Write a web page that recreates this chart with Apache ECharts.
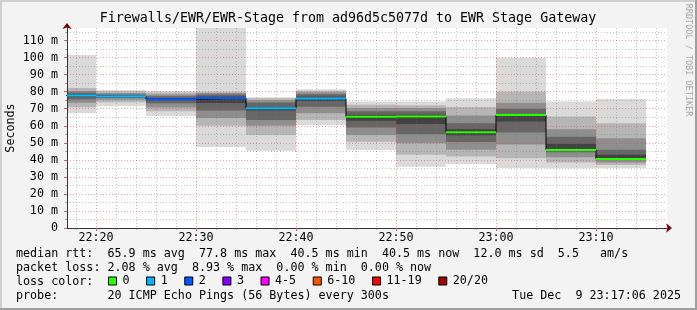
<!DOCTYPE html>
<html><head><meta charset="utf-8">
<script src="https://cdn.jsdelivr.net/npm/echarts@6/dist/echarts.min.js"></script>
<style>html,body{margin:0;padding:0;background:#f3f3f3}#c{width:697px;height:310px}</style>
</head><body><div id="c"></div>
<script>
// ---------------- data ----------------
// x values are minutes after 22:00
const xMin = 17.1, xMax = 77.1;               // 22:17:06 .. 23:17:06
const blockEnds = [20, 25, 30, 35, 40, 45, 50, 55, 60, 65, 70, 75];
const blockLen = 5;
const medians = [77.8, 77.3, 75.6, 76.3, 70.3, 76.0, 65.3, 65.4, 56.2, 66.3, 45.8, 40.5];
const lossCounts = [1, 1, 2, 2, 1, 1, 0, 0, 0, 0, 0, 0];
// sorted ping levels (ms) for each 5-minute block (smoke)
const smoke01 = [67.3, 70.9, 73.5, 75.5, 77.0, 78.5, 79.5, 80.5, 82.2, 101.6];
const smoke02 = [71.6, 73.8, 75.3, 76.3, 77.0, 77.8, 78.4, 79.3, 80.2, 81.0];
const smoke03 = [65.8, 68.5, 70.8, 73.2, 74.8, 76.3, 77.3, 78.3, 79.6, 80.6];
const smoke04 = [47.5, 60.0, 64.6, 69.0, 73.4, 77.2, 78.3, 79.2, 80.0, 125.0];
const smoke05 = [45.3, 54.6, 60.0, 63.4, 69.0, 71.0, 73.6, 75.0, 76.2, 76.8];
const smoke06 = [60.3, 63.4, 67.3, 71.2, 74.5, 77.0, 78.5, 79.7, 80.6, 81.4];
const smoke07 = [45.8, 50.7, 54.6, 59.0, 63.0, 66.5, 68.5, 70.5, 72.3, 74.2];
const smoke08 = [36.0, 43.0, 49.7, 55.0, 61.0, 66.5, 68.5, 70.5, 72.0, 74.2];
const smoke09 = [37.5, 42.0, 46.0, 50.5, 54.5, 58.0, 61.5, 66.0, 71.0, 76.2];
const smoke10 = [35.2, 41.0, 49.0, 56.0, 62.5, 66.8, 70.0, 73.5, 80.0, 100.0];
const smoke11 = [35.0, 38.5, 41.5, 44.5, 46.5, 49.5, 53.6, 58.0, 65.4, 74.2];
const smoke12 = [35.2, 37.0, 38.5, 40.0, 41.0, 43.0, 46.0, 52.7, 61.5, 75.7];
const smokeBlocks = [smoke01, smoke02, smoke03, smoke04, smoke05, smoke06, smoke07, smoke08, smoke09, smoke10, smoke11, smoke12];

const xTicks = [20, 30, 40, 50, 60, 70];
const xMinorTicks = [18, 22, 24, 26, 28, 32, 34, 36, 38, 42, 44, 46, 48, 52, 54, 56, 58, 62, 64, 66, 68, 72, 74, 76];
const yMin = 0, yMax = 117.4;
const yTicks = [0, 10, 20, 30, 40, 50, 60, 70, 80, 90, 100, 110];
const yMinorTicks = [5, 15, 25, 35, 45, 55, 65, 75, 85, 95, 105, 115];

const lossLabels = ['0', '1', '2', '3', '4-5', '6-10', '11-19', '20/20'];
const lossColors = ['#26ff00', '#00b8ff', '#0059ff', '#7e00ff', '#ff00ff', '#ff5500', '#ff0000', '#a10000'];
const lossUpper = [0, 1, 2, 3, 5, 10, 19, 20];

const titleText = 'Firewalls/EWR/EWR-Stage from ad96d5c5077d to EWR Stage Gateway';
const rttStats = ['65.9 ms avg', '77.8 ms max', '40.5 ms min', '40.5 ms now', '12.0 ms sd', '5.5   am/s'];
const lossStats = ['2.08 % avg', '8.93 % max', '0.00 % min', '0.00 % now'];
const probeText = '20 ICMP Echo Pings (56 Bytes) every 300s';
const stampText = 'Tue Dec  9 23:17:06 2025';

// ---------------- styling ----------------
const MONO = '"DejaVu Sans Mono", "Liberation Mono", monospace';
const FS = 11.7;
const smokeColors = ['#dadada', '#b6b6b6', '#8e8e8e', '#666666', '#424242'];
const minorGrid = 'rgba(120,120,120,0.42)';
const majorGrid = 'rgba(225,70,70,0.5)';

function lossCat(n) { for (let i = 0; i < lossUpper.length; i++) if (n <= lossUpper[i]) return i; return lossUpper.length - 1; }
function fmtTime(v) { const h = 22 + Math.floor(v / 60), m = Math.round(v % 60); return h + ':' + (m < 10 ? '0' : '') + m; }

const smokeData = [];
smokeBlocks.forEach((p, i) => {
  const e = blockEnds[i], s = e - blockLen;
  for (let k = 0; k < p.length / 2; k++) smokeData.push([s, e, p[k], p[p.length - 1 - k], k]);
});
const stepData = blockEnds.map((e, i) => [e - blockLen, medians[i]]);
stepData.push([blockEnds[blockEnds.length - 1], medians[medians.length - 1]]);

function clipRect(x0, y0, x1, y1, cs) {
  const a = Math.max(Math.min(x0, x1), cs.x), b = Math.min(Math.max(x0, x1), cs.x + cs.width);
  const c = Math.max(Math.min(y0, y1), cs.y), d = Math.min(Math.max(y0, y1), cs.y + cs.height);
  return { x: a, y: c, width: Math.max(0, b - a), height: Math.max(0, d - c) };
}

const lossSeries = lossLabels.map((lab, ci) => ({
  type: 'custom', name: lab, z: 6, silent: true,
  itemStyle: { color: lossColors[ci] },
  data: blockEnds.map((e, i) => [e - blockLen, e, medians[i], lossCat(lossCounts[i])]).filter(d => d[3] === ci),
  renderItem: function (params, api) {
    const cs = params.coordSys;
    const p0 = api.coord([api.value(0), api.value(2)]);
    const p1 = api.coord([api.value(1), api.value(2)]);
    const x0 = Math.max(p0[0], cs.x), x1 = Math.min(p1[0], cs.x + cs.width);
    return { type: 'line', shape: { x1: x0, y1: p0[1], x2: x1, y2: p1[1] }, style: { stroke: lossColors[ci], lineWidth: 2 } };
  }
}));

const chart = echarts.init(document.getElementById('c'), null, { renderer: 'canvas' });
const W = 697, H = 310;
chart.setOption({
  animation: false,
  backgroundColor: '#f3f3f3',
  grid: { left: 67, right: 30, top: 28, bottom: 82, show: true, backgroundColor: '#ffffff', borderWidth: 0, containLabel: false, outerBoundsMode: 'none' },
  xAxis: [
    { type: 'value', min: xMin, max: xMax, position: 'bottom', z: 4,
      axisLine: { show: true, onZero: false, lineStyle: { color: '#333', width: 1 } },
      axisTick: { show: true, length: 3, customValues: xTicks, lineStyle: { color: '#d06060' } },
      axisLabel: { customValues: xTicks, formatter: fmtTime, margin: 4, color: '#000', fontFamily: MONO, fontSize: FS },
      splitLine: { show: true, lineStyle: { color: majorGrid, type: [1, 2], width: 1 } } },
    { type: 'value', min: xMin, max: xMax, position: 'bottom', z: 3,
      axisLine: { show: true, onZero: false, symbol: ['none', 'arrow'], symbolSize: [7, 6], symbolOffset: [0, 5], lineStyle: { color: '#7a0000', width: 1 } },
      axisTick: { show: true, length: 2, customValues: xMinorTicks, lineStyle: { color: '#aaa' } },
      axisLabel: { show: false, customValues: xMinorTicks },
      splitLine: { show: true, lineStyle: { color: minorGrid, type: [1, 2], width: 1 } } }
  ],
  yAxis: [
    { type: 'value', min: yMin, max: yMax, position: 'left', z: 4,
      name: 'Seconds', nameLocation: 'middle', nameGap: 50, nameMoveOverlap: false,
      nameTextStyle: { fontFamily: MONO, fontSize: FS, color: '#000' },
      axisLine: { show: true, onZero: false, lineStyle: { color: '#333', width: 1 } },
      axisTick: { show: true, length: 3, customValues: yTicks, lineStyle: { color: '#d06060' } },
      axisLabel: { customValues: yTicks, formatter: v => v === 0 ? '0' : v + ' m', margin: 9, color: '#000', fontFamily: MONO, fontSize: FS },
      splitLine: { show: true, lineStyle: { color: majorGrid, type: [1, 2], width: 1 } } },
    { type: 'value', min: yMin, max: yMax, position: 'left', z: 3,
      axisLine: { show: true, onZero: false, symbol: ['none', 'arrow'], symbolSize: [7, 6], symbolOffset: [0, 5], lineStyle: { color: '#7a0000', width: 1 } },
      axisTick: { show: true, length: 2, customValues: yMinorTicks, lineStyle: { color: '#aaa' } },
      axisLabel: { show: false, customValues: yMinorTicks },
      splitLine: { show: true, lineStyle: { color: minorGrid, type: [1, 2], width: 1 } } }
  ],
  legend: {
    data: lossLabels, left: 108, top: 275, icon: 'rect', itemWidth: 8, itemHeight: 8, itemGap: 16.6,
    selectedMode: false, padding: 0,
    itemStyle: { borderColor: '#000', borderWidth: 1 },
    textStyle: { fontFamily: MONO, fontSize: FS, color: '#000', padding: [0, 0, 0, 1] }
  },
  series: [
    { type: 'custom', name: 'smoke', z: 1, silent: true, data: smokeData,
      renderItem: function (params, api) {
        const cs = params.coordSys;
        const a = api.coord([api.value(0), api.value(3)]);
        const b = api.coord([api.value(1), api.value(2)]);
        return { type: 'rect', shape: clipRect(a[0], a[1], b[0], b[1], cs), style: { fill: smokeColors[api.value(4)] } };
      } },
    { type: 'line', name: 'median', z: 5, silent: true, step: 'end', symbol: 'none', clip: true,
      data: stepData, lineStyle: { color: '#000', width: 1 } },
    ...lossSeries
  ],
  graphic: [
    { type: 'rect', shape: { x: 0, y: 0, width: W, height: 2 }, style: { fill: '#cfcfcf' }, silent: true },
    { type: 'rect', shape: { x: 0, y: 0, width: 2, height: H }, style: { fill: '#cfcfcf' }, silent: true },
    { type: 'rect', shape: { x: 0, y: H - 2, width: W, height: 2 }, style: { fill: '#9f9f9f' }, silent: true },
    { type: 'rect', shape: { x: W - 2, y: 0, width: 2, height: H }, style: { fill: '#9f9f9f' }, silent: true },
    { type: 'text', x: 348, y: 19, silent: true, style: { text: titleText, font: '13.3px ' + MONO, fill: '#000', align: 'center', verticalAlign: 'middle' } },
    { type: 'text', x: 688, y: 60, rotation: -Math.PI / 2, silent: true, style: { text: 'RRDTOOL / TOBI OETIKER', font: '8.5px ' + MONO, fill: '#a8a8a8', align: 'center', verticalAlign: 'middle' } },
    { type: 'text', x: 16, y: 254, silent: true, style: { text: 'median rtt:  ' + rttStats.join('  '), font: FS + 'px ' + MONO, fill: '#000', verticalAlign: 'middle' } },
    { type: 'text', x: 16, y: 268, silent: true, style: { text: 'packet loss: ' + lossStats.join('  '), font: FS + 'px ' + MONO, fill: '#000', verticalAlign: 'middle' } },
    { type: 'text', x: 16, y: 282, silent: true, style: { text: 'loss color:', font: FS + 'px ' + MONO, fill: '#000', verticalAlign: 'middle' } },
    { type: 'text', x: 16, y: 296, silent: true, style: { text: 'probe:       ' + probeText, font: FS + 'px ' + MONO, fill: '#000', verticalAlign: 'middle' } },
    { type: 'text', x: 681, y: 296, silent: true, style: { text: stampText, font: FS + 'px ' + MONO, fill: '#000', align: 'right', verticalAlign: 'middle' } }
  ]
});
</script></body></html>
